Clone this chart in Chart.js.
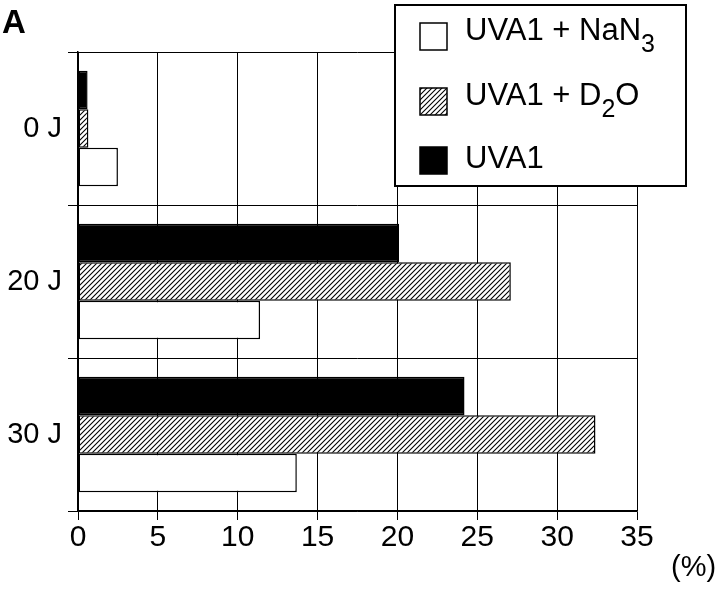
<!DOCTYPE html>
<html><head><meta charset="utf-8">
<script src="https://cdn.jsdelivr.net/npm/chart.js@4/dist/chart.umd.min.js"></script>
<style>html,body{margin:0;padding:0;background:#fff}#wrap{width:720px;height:589px;position:relative}canvas{display:block}</style>
</head><body><div id="wrap"><canvas id="c" width="720" height="589"></canvas></div>
<script>
// ---- data ----
const categories = ['0 J', '20 J', '30 J'];
const seriesNames = ['UVA1', 'UVA1 + D{2}O', 'UVA1 + NaN{3}'];
const uva1 = [0.6, 20.1, 24.2];
const uva1D2O = [0.65, 27.1, 32.4];
const uva1NaN3 = [2.5, 11.4, 13.7];
const xMin = 0, xMax = 35, xStep = 5;
const panelLabel = 'A';
const unitLabel = '(%)';

const FONT = '"Liberation Sans", Arial, Helvetica, sans-serif';

function makeHatch() {
  const s = 5;
  const p = document.createElement('canvas');
  p.width = s; p.height = s;
  const g = p.getContext('2d');
  g.fillStyle = '#fff'; g.fillRect(0, 0, s, s);
  g.strokeStyle = '#000'; g.lineWidth = 1.1;
  g.beginPath();
  g.moveTo(-1, s + 1); g.lineTo(s + 1, -1);
  g.moveTo(-1, 1); g.lineTo(1, -1);
  g.moveTo(s - 1, s + 1); g.lineTo(s + 1, s - 1);
  g.stroke();
  return document.getElementById('c').getContext('2d').createPattern(p, 'repeat');
}
const hatch = makeHatch();
const fills = ['#000', hatch, '#fff'];

function drawRich(ctx, text, x, y, size) {
  const parts = text.split(/(\{[^}]*\})/);
  let cx = x;
  for (const part of parts) {
    if (!part) continue;
    if (part[0] === '{') {
      const t = part.slice(1, -1);
      ctx.font = Math.round(size * 0.8) + 'px ' + FONT;
      ctx.fillText(t, cx, y + 12);
      cx += ctx.measureText(t).width;
    } else {
      ctx.font = size + 'px ' + FONT;
      ctx.fillText(part, cx, y);
      cx += ctx.measureText(part).width;
    }
  }
}

const extras = {
  id: 'extras',
  afterDraw(chart) {
    const ctx = chart.ctx;
    ctx.save();
    // legend box
    const bx = 395, by = 5, bw = 291, bh = 181;
    ctx.fillStyle = '#fff';
    ctx.fillRect(bx, by, bw, bh);
    ctx.strokeStyle = '#000'; ctx.lineWidth = 2;
    ctx.strokeRect(bx, by, bw, bh);
    const boxTops = [23, 88, 147];
    const baselines = [40, 105, 168];
    const order = [2, 1, 0];
    order.forEach((di, i) => {
      ctx.fillStyle = fills[di];
      ctx.fillRect(420, boxTops[i], 27, 27);
      ctx.strokeStyle = '#000'; ctx.lineWidth = 1.5;
      ctx.strokeRect(420, boxTops[i], 27, 27);
      ctx.fillStyle = '#000';
      ctx.textBaseline = 'alphabetic';
      ctx.textAlign = 'left';
      drawRich(ctx, chart.data.datasets[di].label, 465, baselines[i], 31);
    });
    // panel label
    ctx.fillStyle = '#000';
    ctx.font = 'bold 33px ' + FONT;
    ctx.textAlign = 'left';
    ctx.fillText(panelLabel, 2, 33);
    // unit
    ctx.font = '29px ' + FONT;
    ctx.fillText(unitLabel, 671, 576);
    ctx.restore();
  }
};

new Chart(document.getElementById('c'), {
  type: 'bar',
  data: {
    labels: categories,
    datasets: [
      { label: seriesNames[0], data: uva1, backgroundColor: fills[0] },
      { label: seriesNames[1], data: uva1D2O, backgroundColor: fills[1] },
      { label: seriesNames[2], data: uva1NaN3, backgroundColor: fills[2] }
    ].map(d => Object.assign(d, { borderColor: '#000', borderWidth: 1.5, borderSkipped: false }))
  },
  options: {
    indexAxis: 'y',
    responsive: false,
    animation: false,
    devicePixelRatio: 1,
    categoryPercentage: 0.755,
    barPercentage: 1,
    layout: { padding: { top: 52, right: 83, left: 0, bottom: 0 } },
    plugins: { legend: { display: false }, tooltip: { enabled: false } },
    scales: {
      x: {
        min: xMin, max: xMax,
        ticks: { stepSize: xStep, color: '#000', font: { family: FONT, size: 30 }, padding: 0, maxRotation: 0 },
        grid: { color: '#000', lineWidth: 1, tickLength: 9, drawTicks: true },
        border: { color: '#000', width: 1.5 },
        afterFit(s) { s.height = 78; }
      },
      y: {
        ticks: { color: '#000', font: { family: FONT, size: 29 }, padding: 6 },
        grid: { color: '#000', lineWidth: 1, tickLength: 10, offset: true },
        border: { color: '#000', width: 1.5 },
        afterFit(s) { s.width = 78; }
      }
    }
  },
  plugins: [extras]
});
</script>
</body></html>
